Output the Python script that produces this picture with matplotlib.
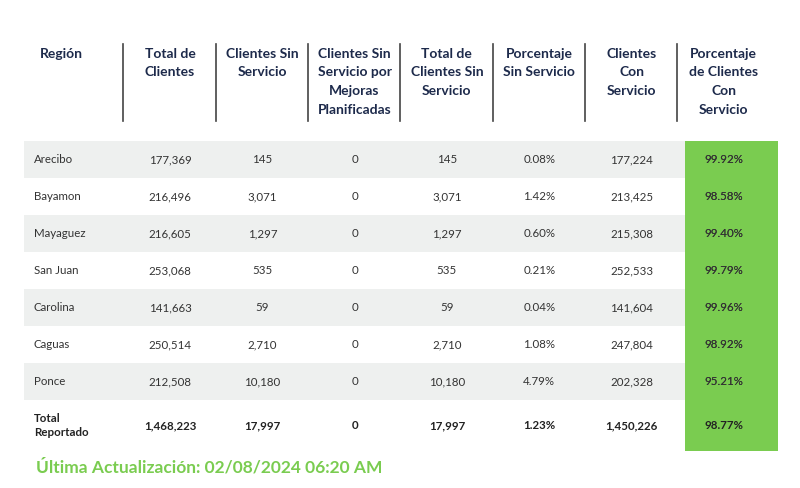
import matplotlib.pyplot as plt
from matplotlib.patches import Rectangle

headers = ['Región', 'Total de\nClientes', 'Clientes Sin\nServicio',
           'Clientes Sin\nServicio por\nMejoras\nPlanificadas',
           'Total de\nClientes Sin\nServicio', 'Porcentaje\nSin Servicio',
           'Clientes\nCon\nServicio', 'Porcentaje\nde Clientes\nCon\nServicio']
regions = ['Arecibo', 'Bayamon', 'Mayaguez', 'San Juan', 'Carolina', 'Caguas', 'Ponce']
total_clientes = ['177,369', '216,496', '216,605', '253,068', '141,663', '250,514', '212,508']
sin_servicio = ['145', '3,071', '1,297', '535', '59', '2,710', '10,180']
mejoras = ['0', '0', '0', '0', '0', '0', '0']
total_sin = ['145', '3,071', '1,297', '535', '59', '2,710', '10,180']
pct_sin = ['0.08%', '1.42%', '0.60%', '0.21%', '0.04%', '1.08%', '4.79%']
con_servicio = ['177,224', '213,425', '215,308', '252,533', '141,604', '247,804', '202,328']
pct_con = ['99.92%', '98.58%', '99.40%', '99.79%', '99.96%', '98.92%', '95.21%']
total_row = ['Total\nReportado', '1,468,223', '17,997', '0', '17,997', '1.23%', '1,450,226', '98.77%']
footer = 'Última Actualización: 02/08/2024 06:20 AM'

plt.rcParams['font.family'] = ['Lato', 'DejaVu Sans']
fig = plt.figure(figsize=(8, 4.88), dpi=100)
ax = fig.add_axes([0, 0, 1, 1])
ax.set_xlim(0, 800)
ax.set_ylim(488, 0)
ax.axis('off')

navy = '#1d2a4b'
body = '#333333'
green = '#7acc50'
gray = '#eef0ef'

left, right = 24, 778
col_w = 92.3
centers = [170 + i * col_w for i in range(7)]
row_top, row_h = 141, 37
total_h = 51

# header
ax.text(61, 47.5, headers[0], ha='center', va='top', fontsize=10, fontweight='bold',
        color=navy, linespacing=1.68)
for i, h in enumerate(headers[1:]):
    ax.text(centers[i], 47.5, h, ha='center', va='top', fontsize=10, fontweight='bold',
            color=navy, linespacing=1.68)
    ax.plot([centers[i] - col_w / 2 - 0.5] * 2, [44, 121], color='#444444', lw=1.2)

# rows
rows = list(zip(regions, total_clientes, sin_servicio, mejoras, total_sin,
                pct_sin, con_servicio, pct_con))
for r, row in enumerate(rows):
    y0 = row_top + r * row_h
    if r % 2 == 0:
        ax.add_patch(Rectangle((left, y0), right - left, row_h, color=gray, lw=0))
    yc = y0 + row_h / 2
    ax.text(34, yc, row[0], ha='left', va='center', fontsize=8.3, color=body)
    for i, v in enumerate(row[1:]):
        ax.text(centers[i], yc, v, ha='center', va='center', fontsize=8.3, color=body)

# green column
green_top = row_top
green_bottom = row_top + len(rows) * row_h + total_h
gx = centers[6] - col_w / 2 + 7
ax.add_patch(Rectangle((gx, green_top), right - gx, green_bottom - green_top, color=green, lw=0))
for r, v in enumerate(pct_con):
    ax.text(centers[6], row_top + r * row_h + row_h / 2, v, ha='center', va='center',
            fontsize=8.3, color=body)

# total row
yc = row_top + len(rows) * row_h + total_h / 2
ax.text(34, yc, total_row[0], ha='left', va='center', fontsize=8.3, fontweight='bold',
        color='#222222', linespacing=1.4)
for i, v in enumerate(total_row[1:]):
    ax.text(centers[i], yc, v, ha='center', va='center', fontsize=8.3, fontweight='bold',
            color='#222222')

ax.text(36, 467, footer, ha='left', va='center', fontsize=12.5, fontweight='bold', color=green)

fig.savefig('out.png', dpi=100)
